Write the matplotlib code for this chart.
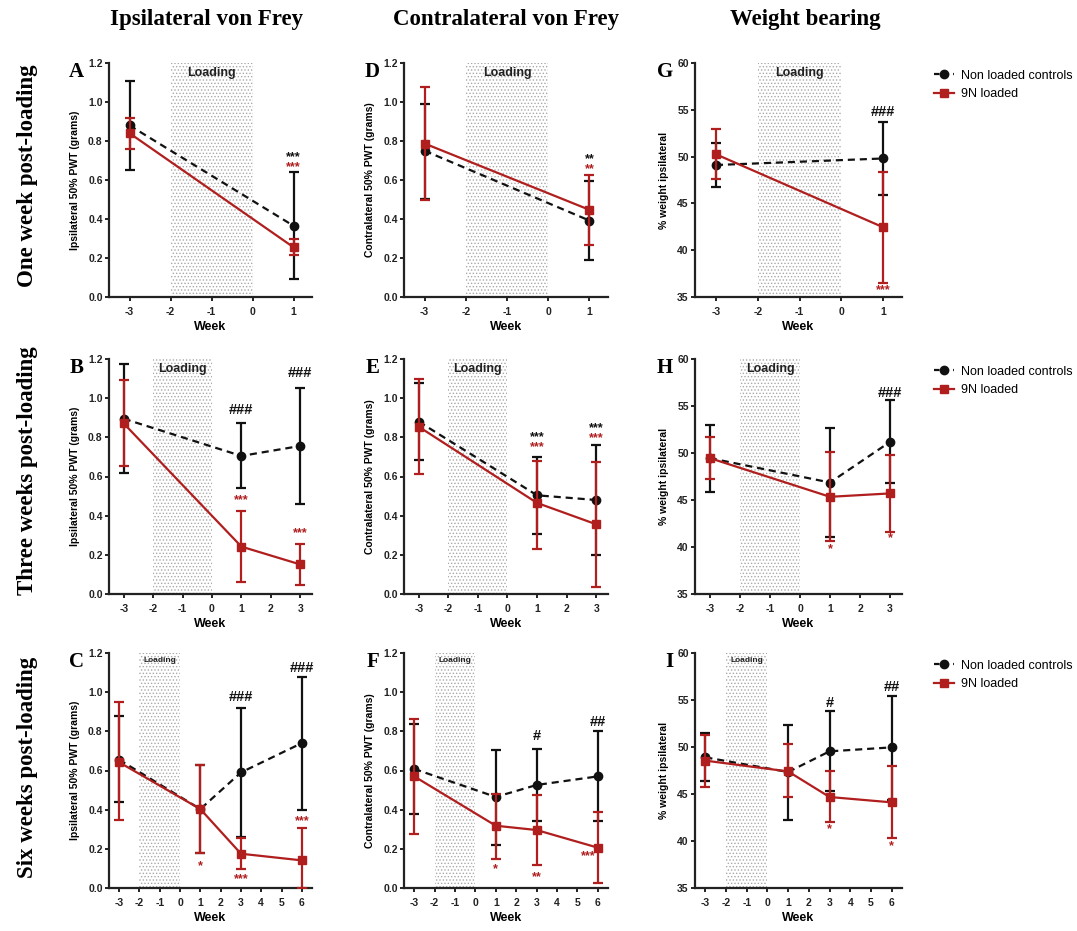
import matplotlib
matplotlib.use("Agg")
import matplotlib.pyplot as plt
from matplotlib.lines import Line2D
import numpy as np

plt.rcParams['font.family'] = ['Liberation Sans', 'DejaVu Sans']
plt.rcParams['hatch.linewidth'] = 0.6

RED = '#b01e1e'
BLACK = '#111111'

# ---------------- data ----------------
col_titles = ["Ipsilateral von Frey", "Contralateral von Frey", "Weight bearing"]
row_titles = ["One week post-loading", "Three weeks post-loading", "Six weeks post-loading"]
panel_letters = ["A", "D", "G", "B", "E", "H", "C", "F", "I"]
legend_labels = ["Non loaded controls", "9N loaded"]

weeks_1 = [-3, 1]
weeks_3 = [-3, 1, 3]
weeks_6 = [-3, 1, 3, 6]

# Panel A (ipsilateral, one week)
A_ctrl = [0.88, 0.365]
A_ctrl_lo = [0.65, 0.09]
A_ctrl_hi = [1.11, 0.64]
A_load = [0.84, 0.255]
A_load_lo = [0.76, 0.215]
A_load_hi = [0.92, 0.295]
A_notes = [(1, 0.715, "***", "k"), (1, 0.665, "***", "r")]

# Panel D (contralateral, one week)
D_ctrl = [0.75, 0.392]
D_ctrl_lo = [0.505, 0.19]
D_ctrl_hi = [0.99, 0.595]
D_load = [0.787, 0.447]
D_load_lo = [0.50, 0.265]
D_load_hi = [1.078, 0.628]
D_notes = [(1, 0.705, "**", "k"), (1, 0.655, "**", "r")]

# Panel G (weight bearing, one week)
G_ctrl = [49.1, 49.8]
G_ctrl_lo = [46.8, 45.9]
G_ctrl_hi = [51.5, 53.7]
G_load = [50.25, 42.45]
G_load_lo = [47.6, 36.5]
G_load_hi = [52.9, 48.4]
G_notes = [(1, 54.8, "###", "k"), (1, 35.7, "***", "r")]

# Panel B (ipsilateral, three weeks)
B_ctrl = [0.895, 0.705, 0.756]
B_ctrl_lo = [0.62, 0.54, 0.46]
B_ctrl_hi = [1.173, 0.872, 1.054]
B_load = [0.871, 0.242, 0.151]
B_load_lo = [0.654, 0.06, 0.046]
B_load_hi = [1.093, 0.426, 0.255]
B_notes = [(1, 0.94, "###", "k"), (3, 1.13, "###", "k"),
           (1, 0.48, "***", "r"), (3, 0.313, "***", "r")]

# Panel E (contralateral, three weeks)
E_ctrl = [0.88, 0.504, 0.48]
E_ctrl_lo = [0.684, 0.305, 0.199]
E_ctrl_hi = [1.079, 0.701, 0.761]
E_load = [0.854, 0.465, 0.356]
E_load_lo = [0.611, 0.228, 0.034]
E_load_hi = [1.096, 0.68, 0.676]
E_notes = [(1, 0.80, "***", "k"), (1, 0.75, "***", "r"),
           (3, 0.848, "***", "k"), (3, 0.798, "***", "r")]

# Panel H (weight bearing, three weeks)
H_ctrl = [49.45, 46.86, 51.18]
H_ctrl_lo = [45.8, 41.09, 46.76]
H_ctrl_hi = [52.99, 52.63, 55.6]
H_load = [49.45, 45.34, 45.7]
H_load_lo = [47.2, 40.67, 41.62]
H_load_hi = [51.7, 50.12, 49.8]
H_notes = [(3, 56.4, "###", "k"), (1, 39.75, "*", "r"), (3, 40.95, "*", "r")]

# Panel C (ipsilateral, six weeks)
C_ctrl = [0.655, 0.403, 0.59, 0.74]
C_ctrl_lo = [0.437, 0.18, 0.26, 0.40]
C_ctrl_hi = [0.877, 0.63, 0.92, 1.076]
C_load = [0.642, 0.403, 0.175, 0.141]
C_load_lo = [0.349, 0.18, 0.097, 0.0]
C_load_hi = [0.948, 0.63, 0.255, 0.306]
C_notes = [(3, 0.975, "###", "k"), (6, 1.123, "###", "k"),
           (1, 0.11, "*", "r"), (3, 0.046, "***", "r"), (6, 0.34, "***", "r")]

# Panel F (contralateral, six weeks)
F_ctrl = [0.608, 0.465, 0.526, 0.57]
F_ctrl_lo = [0.376, 0.221, 0.34, 0.34]
F_ctrl_hi = [0.839, 0.706, 0.71, 0.80]
F_load = [0.57, 0.318, 0.296, 0.206]
F_load_lo = [0.276, 0.15, 0.119, 0.026]
F_load_hi = [0.863, 0.482, 0.473, 0.386]
F_notes = [(3, 0.774, "#", "k"), (6, 0.85, "##", "k"),
           (1, 0.094, "*", "r"), (3, 0.056, "**", "r"), (5.55, 0.16, "***", "r")]

# Panel I (weight bearing, six weeks)
I_ctrl = [48.9, 47.34, 49.54, 49.96]
I_ctrl_lo = [46.35, 42.27, 45.35, 44.4]
I_ctrl_hi = [51.49, 52.38, 53.79, 55.46]
I_load = [48.55, 47.4, 44.68, 44.11]
I_load_lo = [45.7, 44.65, 42.02, 40.32]
I_load_hi = [51.3, 50.3, 47.41, 48.0]
I_notes = [(3, 54.7, "#", "k"), (6, 56.35, "##", "k"),
           (3, 41.28, "*", "r"), (6, 39.5, "*", "r")]

panels = [
    [(weeks_1, A_ctrl, A_ctrl_lo, A_ctrl_hi, A_load, A_load_lo, A_load_hi, A_notes),
     (weeks_1, D_ctrl, D_ctrl_lo, D_ctrl_hi, D_load, D_load_lo, D_load_hi, D_notes),
     (weeks_1, G_ctrl, G_ctrl_lo, G_ctrl_hi, G_load, G_load_lo, G_load_hi, G_notes)],
    [(weeks_3, B_ctrl, B_ctrl_lo, B_ctrl_hi, B_load, B_load_lo, B_load_hi, B_notes),
     (weeks_3, E_ctrl, E_ctrl_lo, E_ctrl_hi, E_load, E_load_lo, E_load_hi, E_notes),
     (weeks_3, H_ctrl, H_ctrl_lo, H_ctrl_hi, H_load, H_load_lo, H_load_hi, H_notes)],
    [(weeks_6, C_ctrl, C_ctrl_lo, C_ctrl_hi, C_load, C_load_lo, C_load_hi, C_notes),
     (weeks_6, F_ctrl, F_ctrl_lo, F_ctrl_hi, F_load, F_load_lo, F_load_hi, F_notes),
     (weeks_6, I_ctrl, I_ctrl_lo, I_ctrl_hi, I_load, I_load_lo, I_load_hi, I_notes)],
]

y_labels = ["Ipsilateral 50% PWT (grams)", "Contralateral 50% PWT (grams)", "% weight ipsilateral"]
row_xticks = [[-3, -2, -1, 0, 1], [-3, -2, -1, 0, 1, 2, 3], [-3, -2, -1, 0, 1, 2, 3, 4, 5, 6]]
row_xlims = [(-3.5, 1.45), (-3.5, 3.4), (-3.5, 6.5)]
loading_span = (-2, 0)

# ---------------- layout ----------------
W, H = 1077, 931
fig = plt.figure(figsize=(W / 100, H / 100), dpi=100)

col_lr = [(109, 312), (404, 608), (695, 902)]
row_tb = [(63, 297), (359, 594), (653, 888)]
letter_dx = [-0.125, -0.12, -0.105]

legend_handles = [
    Line2D([], [], color=BLACK, ls=(0, (2.5, 1.8)), lw=1.6, marker='o', ms=6),
    Line2D([], [], color=RED, ls='-', lw=1.6, marker='s', ms=6),
]

for r in range(3):
    for c in range(3):
        l, rr = col_lr[c]
        t, b = row_tb[r]
        ax = fig.add_axes([l / W, 1 - b / H, (rr - l) / W, (b - t) / H])
        weeks, cm, clo, chi, lm, llo, lhi, notes = panels[r][c]
        weeks = np.array(weeks, float)
        cm, clo, chi = map(np.array, (cm, clo, chi))
        lm, llo, lhi = map(np.array, (lm, llo, lhi))

        # loading shaded region
        ax.axvspan(*loading_span, facecolor='white', edgecolor='#a8a8a8',
                   hatch='.....', linewidth=0, zorder=0)
        ax.text(np.mean(loading_span), 0.985, "Loading", transform=ax.get_xaxis_transform(),
                ha='center', va='top', fontsize=9 if r < 2 else 6, fontweight='bold',
                color='#222222', zorder=1)

        ax.errorbar(weeks, cm, yerr=[cm - clo, chi - cm], color=BLACK, ls=(0, (3.2, 2.2)),
                    lw=1.6, marker='o', ms=6, capsize=3.5, elinewidth=1.6, capthick=1.6,
                    zorder=3)
        ax.errorbar(weeks, lm, yerr=[lm - llo, lhi - lm], color=RED, ls='-',
                    lw=1.6, marker='s', ms=6, capsize=3.5, elinewidth=1.6, capthick=1.6,
                    zorder=4)

        for (wx, wy, txt, colr) in notes:
            ax.text(wx, wy, txt, ha='center', va='center',
                    fontsize=9 if '*' in txt else 10.5, fontweight='bold',
                    color=BLACK if colr == 'k' else RED, zorder=5)

        ax.set_xlim(*row_xlims[r])
        ax.set_xticks(row_xticks[r])
        ax.set_xticklabels([str(v) for v in row_xticks[r]])
        if c < 2:
            ax.set_ylim(0, 1.2)
            ax.set_yticks(np.arange(0, 1.21, 0.2))
            ax.set_yticklabels([f"{v:.1f}" for v in np.arange(0, 1.21, 0.2)])
        else:
            ax.set_ylim(35, 60)
            ax.set_yticks([35, 40, 45, 50, 55, 60])
        for s in ['top', 'right']:
            ax.spines[s].set_visible(False)
        for s in ['left', 'bottom']:
            ax.spines[s].set_linewidth(1.6)
            ax.spines[s].set_color('#222222')
        ax.tick_params(axis='both', width=1.4, length=3, labelsize=7.5, colors='#222222')
        ax.tick_params(axis='y', pad=1.5)
        ax.tick_params(axis='x', pad=4)
        for lab in ax.get_xticklabels() + ax.get_yticklabels():
            lab.set_fontweight('bold')
        ax.set_xlabel("Week", fontsize=9, fontweight='bold', labelpad=3)
        ax.set_ylabel(y_labels[c], fontsize=7.5, fontweight='bold', labelpad=6)

        # panel letter
        ax.text(letter_dx[c], 1.005, panel_letters[r * 3 + c], transform=ax.transAxes,
                ha='right', va='top', fontsize=15, fontweight='bold',
                family=['Liberation Serif', 'DejaVu Serif'])

        if c == 2:
            ax.legend(legend_handles, legend_labels, loc='upper left',
                      bbox_to_anchor=(1.1, 1.02), frameon=False,
                      fontsize=9, handlelength=1.6, labelspacing=0.55,
                      handletextpad=0.6)

# column titles
col_centers = [207, 506, 805]
for c, title in enumerate(col_titles):
    fig.text(col_centers[c] / W, 1 - 19 / H, title, ha='center', va='center',
             fontsize=16.5, fontweight='bold', family=['Liberation Serif', 'DejaVu Serif'])

# row titles
row_centers = [176, 471, 767]
for r, title in enumerate(row_titles):
    fig.text(28 / W, 1 - row_centers[r] / H, title, ha='center', va='center', rotation=90,
             fontsize=16.5, fontweight='bold', family=['Liberation Serif', 'DejaVu Serif'])

fig.savefig("out.png", dpi=100)
